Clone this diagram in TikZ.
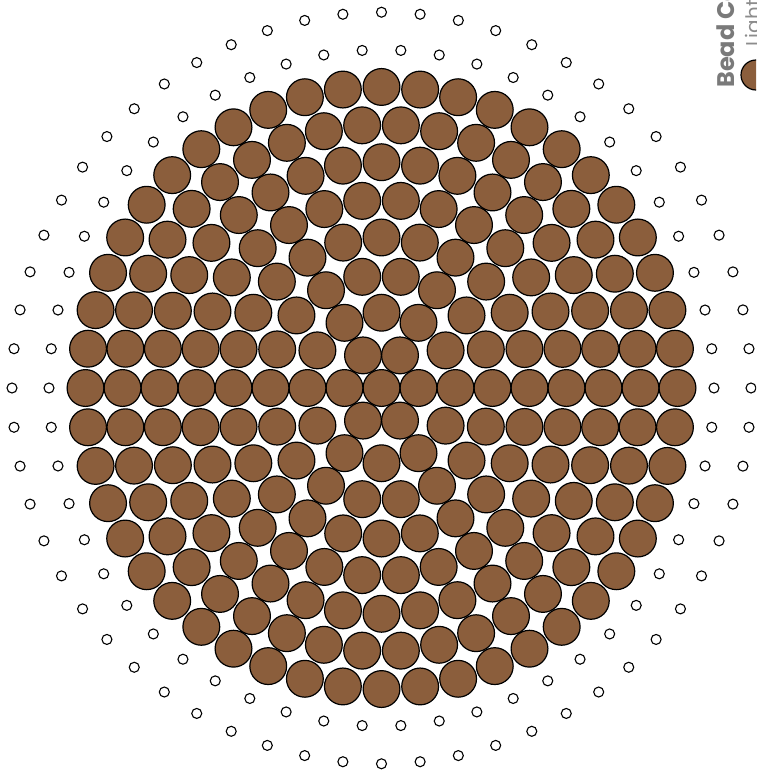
\documentclass[tikz,border=0pt]{standalone}
\usepackage{fontspec}
\setsansfont{Poppins}
\usetikzlibrary{positioning}
\definecolor{beadbrown}{RGB}{139,94,60}
\definecolor{titlegray}{RGB}{122,122,122}
\definecolor{labelgray}{RGB}{140,140,140}
\tikzset{
  bead/.style={draw=black,line width=1.2pt,fill=beadbrown},
  peg/.style={draw=black,line width=1.1pt,fill=white},
}

\begin{document}
\begin{tikzpicture}[x=1pt,y=-1pt]
\useasboundingbox (0,0) rectangle (756,776);
\clip (0,0) rectangle (756,776);
\def\cx{381.5}
\def\cy{388}
\def\sy{1.017}
% peg rings round the pattern
\foreach \n/\rad in {54/332.5,60/369.5}{
  \foreach \i in {1,...,\n}{
    \pgfmathsetmacro\a{360/\n*\i}
    \draw[peg] ({\cx+\rad*cos(\a)},{\cy-\sy*\rad*sin(\a)}) circle[radius=5];
  }
}
% beads, ring by ring
\draw[bead] (\cx,\cy) circle[radius=18.4];
\foreach \k in {1,...,8}{
  \pgfmathtruncatemacro\n{6*\k}
  \foreach \i in {1,...,\n}{
    \pgfmathsetmacro\a{360/\n*\i}
    \draw[bead] ({\cx+37*\k*cos(\a)},{\cy-\sy*37*\k*sin(\a)}) circle[radius=18.4];
  }
}
% legend
\node[rotate=90,anchor=base west,inner sep=0pt,text=titlegray,
      font=\sffamily\bfseries\fontsize{24}{24}\selectfont] (legendtitle) at (734,88) {Bead Colors};
\node[circle,bead,minimum size=30pt,inner sep=0pt] (swatch) at (756,75) {};
\node[rotate=90,anchor=base west,inner sep=0pt,text=labelgray,
      font=\sffamily\fontsize{20}{20}\selectfont] (swatchlabel) at (760,47) {Light Brown};
\end{tikzpicture}
\end{document}
